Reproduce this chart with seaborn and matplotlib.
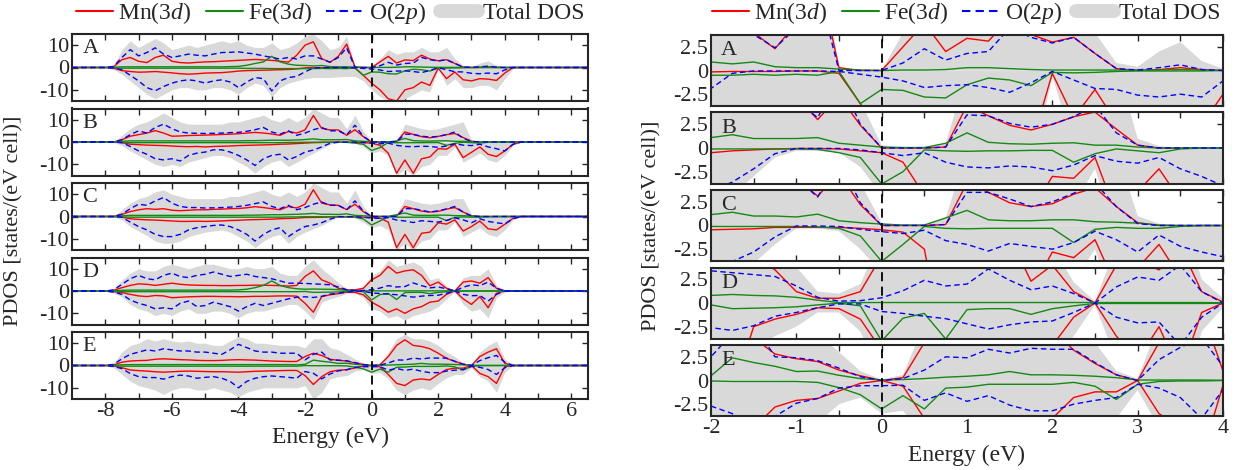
import numpy as np
import matplotlib
matplotlib.use("Agg")
import matplotlib.pyplot as plt
from matplotlib import font_manager
from matplotlib.lines import Line2D
import seaborn as sns

energy = np.arange(-8.0, 4.51, 0.25)

# ---- panel A ----
mn_up_A = [0, 0.3, 3.5, 4.5, 2.8, 2.2, 4.5, 5.5, 2.8, 2.2, 2.0, 2.3, 2.5, 2.6, 2.8, 3.0,
           3.2, 3.4, 3.6, 3.4, 3.2, 2.8, 2.4, 5.5, 10, 11.5, 4.0, 2.3, 5, 10.5, 0.3, 0,
           0, 2.5, 5, 2, 3.4, 3.1, 5.5, 3.8, 3.0, 3.5, 1.8, 0.2, 0, 0.1, 0.3, 0.1, 0, 0, 0]
mn_dn_A = [0, 0.3, 1.4, 1.8, 2.1, 2.0, 1.8, 2.1, 2.4, 2.8, 3.0, 2.8, 2.5, 2.4, 2.3, 2.0,
           1.6, 1.4, 1.3, 1.2, 1.1, 1.0, 0.9, 0.6, 0.15, 0.1, 0.1, 0.1, 0.05, 0.05, 0.3, 3.5,
           7, 10, 14, 15, 10, 9, 6.5, 8, 0.3, 5, 2.0, 5.5, 6, 5, 5.2, 5.8, 2.5, 0, 0]
fe_up_A = [0, 0.1, 0.3, 0.3, 0.3, 0.3, 0.3, 0.3, 0.3, 0.3, 0.3, 0.3, 0.3, 0.3, 0.3, 0.4,
           0.5, 1.0, 1.8, 2.5, 5.0, 2.5, 1.5, 1.0, 0.9, 0.7, 0.9, 0.4, 0.3, 0.3, 0.15, 0.05,
           0, 0.05, 0.05, 0.1, 0.3, 0.3, 0.2, 0.1, 0.05, 0.05, 0.05, 0.05, 0.05, 0.05, 0.1, 0.05, 0, 0, 0]
fe_dn_A = [0, 0.1, 0.3, 0.3, 0.3, 0.3, 0.3, 0.3, 0.3, 0.3, 0.3, 0.3, 0.3, 0.3, 0.3, 0.3,
           0.3, 0.4, 0.4, 0.4, 0.5, 0.5, 0.5, 0.5, 0.5, 0.5, 0.4, 0.5, 0.4, 0.5, 0.1, 3.5,
           2.0, 2.1, 2.8, 2.9, 1.5, 0.8, 1.0, 1.6, 0.2, 0.25, 0.2, 0.1, 0.05, 0.05, 0.05, 0.05, 0, 0, 0]
o_up_A = [0, 0.5, 4.5, 8, 5.2, 6.7, 8.8, 6, 4.5, 5.2, 6, 5.5, 5.2, 6, 6.7, 6.8,
          7, 6.5, 6, 5.2, 4.5, 3.8, 4.5, 3.8, 5.2, 5.2, 3.8, 2.4, 4.5, 8.8, 0, 0,
          0, 0.8, 2.3, 1.1, 1.8, 2.0, 4.5, 3.5, 2.9, 3.5, 1.8, 0.2, 0.05, 0.3, 0.6, 0.1, 0, 0, 0]
o_dn_A = [0, 0.3, 1.0, 3.5, 6, 9, 10.4, 8.5, 7, 6, 5.5, 6, 7, 6, 5.5, 6.5,
          9, 6.5, 4.5, 5, 10.5, 6, 4.5, 4, 1.9, 0.3, 0.05, 0.05, 0.05, 0.05, 0.1, 0.4,
          0.7, 1.1, 1.8, 1.6, 1.5, 1.8, 2.3, 1.3, 0.1, 1.0, 1.9, 2.0, 2.6, 2.8, 2.5, 2.8, 1.1, 0, 0]
tot_up_A = [0, 1, 8, 12, 9, 11, 13, 11, 8, 9, 10, 9, 10, 11, 12, 11,
            12, 10, 9, 9, 11, 8, 9, 11, 14, 15, 12, 8, 9, 14, 0.3, 0,
            0, 4, 8, 6, 7, 7, 9, 7, 7, 9, 4, 0.8, 0.4, 2, 3, 1, 0.2, 0, 0]
tot_dn_A = [0, 1, 3, 6, 9, 12, 14, 12, 10, 9, 9, 10, 10, 9, 9, 10,
            12, 9, 7, 8, 13, 9, 7, 6, 5, 4.5, 4.5, 4.5, 4.2, 4, 4, 6,
            10, 13, 15, 15, 14, 12, 10, 11, 0.6, 8, 5, 9, 9, 8, 8, 10, 5, 0.5, 0]

# ---- panel B ----
mn_up_B = [0, 0, 1.0, 2.6, 3.3, 4.0, 5.1, 4.0, 2.6, 2.7, 2.9, 3.0, 3.1, 3.2, 3.4, 3.5,
           3.7, 4.0, 4.3, 4.0, 3.6, 3.0, 4.7, 4.0, 5.4, 11.9, 6.1, 5.4, 5.4, 3.0, 5.5, 2.4,
           0, 0, 0, 0.1, 4.5, 3.4, 2.4, 1.9, 2.5, 3.3, 3.8, 2.0, 0.3, 0, 0, 0, 0, 0, 0]
mn_dn_B = [0, 0, 0.3, 1.0, 1.2, 1.4, 1.5, 1.6, 1.8, 2.0, 2.1, 2.0, 2.2, 2.0, 1.9, 1.8,
           1.6, 1.5, 1.4, 1.3, 1.2, 1.0, 0.9, 0.7, 0.5, 0.3, 0.2, 0.1, 0.05, 0.05, 0.1, 0.3,
           0.5, 1.5, 5, 14, 8, 14, 7.5, 6.7, 3.0, 3.2, 1.0, 7, 4.6, 2.2, 5.5, 6.5, 4, 1, 0]
fe_up_B = [0, 0, 0.3, 0.5, 0.5, 0.5, 0.5, 0.5, 0.5, 0.5, 0.5, 0.5, 0.5, 0.5, 0.5, 0.5,
           0.5, 0.6, 0.6, 0.7, 0.8, 0.8, 0.8, 0.9, 1.1, 1.4, 1.0, 1.0, 1.0, 1.1, 0.5, 0.3,
           0.1, 0.05, 0.05, 0.5, 1.6, 0.6, 0.45, 0.4, 0.5, 0.55, 0.3, 0.3, 0.1, 0, 0, 0, 0, 0, 0]
fe_dn_B = [0, 0, 0.2, 0.3, 0.3, 0.3, 0.3, 0.3, 0.3, 0.3, 0.3, 0.3, 0.3, 0.3, 0.3, 0.3,
           0.3, 0.3, 0.3, 0.3, 0.3, 0.3, 0.2, 0.2, 0.1, 0.1, 0.1, 0.1, 0.1, 0.15, 0.5, 1.0,
           3.8, 2.5, 0.2, 0.3, 0.35, 0.3, 0.3, 0.25, 0.25, 1.5, 0.6, 0.1, 0.3, 0.5, 0.1, 0, 0, 0, 0]
o_up_B = [0, 0, 1.0, 3.3, 5.0, 4.0, 6.5, 8.0, 6.0, 4.5, 4.0, 3.9, 3.8, 3.9, 4.0, 4.2,
          4.3, 4.8, 5.5, 6.5, 4.5, 3.5, 5.0, 3.0, 4.0, 5.5, 6.5, 5.0, 5.0, 3.2, 7.5, 2.5,
          0, 0, 0, 0.1, 3.5, 3.4, 2.6, 2.2, 2.5, 3.3, 4.5, 1.6, 0.3, 0, 0, 0, 0, 0, 0]
o_dn_B = [0, 0, 0.3, 2.0, 4.0, 5.5, 7.5, 8.0, 7.5, 8.5, 6.0, 5.0, 4.5, 3.5, 3.5, 4.5,
          6.0, 8.0, 10.5, 7.5, 6.0, 5.5, 8.0, 6.5, 4.5, 3.6, 2.2, 0.6, 0.05, 0.05, 0.05, 0.2,
          0.5, 0.8, 0.5, 1.5, 2.0, 2.1, 1.9, 2.0, 2.4, 1.8, 0.8, 1.4, 1.6, 1.0, 2.2, 3.0, 4.0, 1.0, 0]
tot_up_B = [0, 0.3, 3, 6, 8, 9, 11, 13, 11, 9, 8, 8, 8, 8, 8, 9,
            9, 10, 11, 12, 10, 9, 11, 9, 11, 15, 13, 11, 11, 6, 12, 5,
            0.3, 0, 0, 0.5, 8, 7, 6, 5.5, 6, 7, 8, 9, 1.0, 0.2, 0, 0, 0, 0, 0]
tot_dn_B = [0, 0.3, 1.5, 4, 6, 8, 10, 11, 10, 11, 9, 8, 7, 6, 6, 7,
            9, 11, 14, 11, 9, 8, 11, 9, 7, 5, 3, 1, 0.3, 0.3, 0.5, 2,
            5, 4, 6, 15, 12, 15, 11, 10, 6, 6, 2.2, 9, 7, 5, 8, 9, 6, 1.5, 0]

# ---- panel C ----
mn_up_C = [0, 0, 1.0, 2.2, 3.0, 3.5, 3.2, 3.5, 2.8, 2.6, 2.8, 3.0, 3.0, 3.2, 3.3, 3.5,
           3.6, 3.9, 4.4, 4.0, 3.5, 3.0, 4.5, 3.8, 5.5, 12, 6, 5.2, 5.0, 3.1, 5.5, 2.2,
           0, 0, 0, 0.1, 4.5, 3.5, 2.4, 2.0, 2.3, 3.3, 4.0, 2.0, 0.3, 0, 0, 0, 0, 0, 0]
mn_dn_C = [0, 0, 0.3, 1.0, 1.3, 1.5, 1.6, 1.8, 2.0, 2.2, 2.2, 2.1, 2.2, 2.1, 2.0, 1.8,
           1.7, 1.5, 1.4, 1.3, 1.2, 1.0, 0.9, 0.7, 0.45, 0.4, 0.35, 0.2, 0.2, 0.2, 0.2, 0.3,
           0.45, 0.7, 2.5, 14, 8, 14, 7.5, 7.0, 2.8, 3.4, 1.5, 6.5, 4.5, 2.0, 5.5, 6.0, 3.5, 0.8, 0]
fe_up_C = [0, 0, 0.3, 0.5, 0.5, 0.5, 0.5, 0.5, 0.5, 0.5, 0.5, 0.5, 0.5, 0.5, 0.5, 0.5,
           0.5, 0.6, 0.6, 0.7, 0.8, 0.8, 0.9, 1.0, 1.15, 1.4, 1.0, 1.0, 0.9, 1.2, 0.5, 0.3,
           0.15, 0.05, 0.05, 0.8, 1.6, 0.6, 0.5, 0.5, 0.6, 0.6, 0.4, 0.35, 0.25, 0.05, 0, 0, 0, 0, 0]
fe_dn_C = [0, 0, 0.2, 0.3, 0.3, 0.3, 0.3, 0.3, 0.3, 0.3, 0.3, 0.3, 0.3, 0.3, 0.3, 0.3,
           0.3, 0.3, 0.3, 0.3, 0.3, 0.3, 0.2, 0.2, 0.1, 0.1, 0.1, 0.1, 0.1, 0.15, 0.3, 1.1,
           3.8, 2.0, 0.1, 0.3, 0.35, 0.3, 0.3, 0.3, 0.3, 1.8, 0.4, 0.2, 0.3, 0.3, 0.1, 0, 0, 0, 0]
o_up_C = [0, 0, 1.0, 3.5, 5.5, 5.0, 7.0, 8.5, 6.0, 4.5, 4.0, 4.0, 3.8, 3.9, 4.0, 4.2,
          4.5, 5.0, 5.8, 6.5, 4.5, 3.5, 5.0, 3.0, 4.0, 5.5, 6.5, 5.0, 5.0, 3.0, 7.0, 2.4,
          0, 0, 0, 0.1, 3.5, 3.5, 2.8, 2.0, 2.5, 3.4, 4.5, 2.0, 0.2, 0, 0, 0, 0, 0, 0]
o_dn_C = [0, 0, 0.3, 2.5, 4.5, 6.0, 8.0, 9.0, 9.0, 8.0, 6.0, 5.0, 4.5, 4.0, 3.8, 4.5,
          6.0, 8.0, 11.0, 8.0, 6.0, 5.0, 9.0, 6.5, 4.5, 3.8, 2.8, 1.2, 0.05, 0.05, 0.1, 0.4,
          0.65, 0.85, 0.5, 1.6, 2.0, 2.7, 1.9, 2.2, 2.5, 1.8, 0.6, 1.5, 2.8, 1.0, 2.2, 2.8, 3.3, 1.0, 0]
tot_up_C = [0, 0.3, 3, 6, 8, 9, 11, 12, 10, 9, 8, 8, 8, 8, 8, 9,
            9, 10, 11, 12, 10, 9, 11, 9, 11, 15, 13, 11, 11, 6, 12, 4.5,
            0.3, 0, 0, 0.8, 8, 7, 6, 5.5, 6, 7, 8, 8, 1.0, 0.2, 0, 0, 0, 0, 0]
tot_dn_C = [0, 0.3, 1.5, 4.5, 6.5, 8.5, 11, 12, 12, 11, 9, 8, 7, 6.5, 6, 7,
            9, 11, 14, 11, 9, 8, 12, 9, 7, 5.5, 4, 2, 0.3, 0.3, 0.6, 2.5,
            5, 4, 6, 15, 12, 15, 11, 10, 6, 6, 2.5, 9, 7, 5, 8, 9, 6, 1.5, 0]

# ---- panel D ----
mn_up_D = [0, 0.3, 1.5, 2.5, 3.2, 3.0, 2.5, 3.0, 3.5, 3.0, 2.7, 2.6, 2.5, 2.5, 2.4, 2.4,
           2.5, 2.5, 2.6, 2.6, 2.5, 2.4, 2.2, 2.5, 6.5, 9.0, 5.0, 3.5, 1.2, 0.5, 0.5, 1.2,
           5.0, 7.0, 11.0, 8.0, 9.0, 9.5, 7.0, 2.3, 4.0, 1.2, 0, 4.0, 4.5, 3.5, 6.0, 1.2, 0.1, 0, 0]
mn_dn_D = [0, 0.3, 0.7, 1.5, 2.2, 2.5, 2.0, 2.2, 3.0, 2.8, 2.6, 2.5, 2.4, 2.4, 2.5, 2.5,
           2.6, 2.5, 2.4, 2.4, 2.3, 2.2, 2.2, 2.3, 5.5, 9.5, 2.5, 1.7, 1.2, 0.5, 0.6, 1.7,
           5.0, 7.0, 9.5, 8.0, 10.0, 8.0, 7.0, 5.0, 4.5, 1.5, 0, 3.5, 6.0, 2.5, 7.5, 1.0, 0, 0, 0]
fe_up_D = [0, 0.1, 0.3, 0.4, 0.4, 0.4, 0.4, 0.4, 0.4, 0.4, 0.4, 0.4, 0.4, 0.4, 0.4, 0.4,
           0.5, 0.8, 1.5, 2.5, 4.5, 2.5, 1.5, 1.0, 0.8, 0.9, 0.8, 0.75, 0.6, 0.3, 0.05, 0.05,
           0.05, 0.05, 0.05, 0.05, 0.05, 0.05, 0.05, 0.05, 0.05, 0.05, 0.05, 0.05, 0.05, 0.05, 0.05, 0.05, 0.02, 0, 0]
fe_dn_D = [0, 0.1, 0.3, 0.3, 0.3, 0.3, 0.3, 0.3, 0.3, 0.3, 0.3, 0.3, 0.3, 0.3, 0.3, 0.3,
           0.3, 0.3, 0.3, 0.3, 0.3, 0.3, 0.3, 0.3, 0.2, 0.6, 0.55, 0.5, 0.4, 0.2, 0.02, 0.3,
           4.0, 1.6, 1.1, 3.8, 0.7, 0.6, 0.6, 1.2, 0.6, 0.3, 0.05, 0.05, 0.05, 0.05, 0.05, 0.05, 0.02, 0, 0]
o_up_D = [0, 0.5, 3.0, 5.5, 7.0, 5.5, 5.0, 7.0, 8.0, 6.5, 6.0, 7.0, 7.5, 8.5, 7.5, 6.5,
          7.0, 7.5, 6.5, 6.0, 5.5, 4.5, 3.5, 3.5, 3.4, 3.2, 3.0, 2.8, 1.8, 0.6, 0.2, 0.25,
          0.55, 1.3, 2.4, 1.8, 2.0, 3.6, 2.4, 1.4, 1.8, 1.0, 0, 1.7, 2.75, 2.4, 4.0, 1.2, 0, 0, 0]
o_dn_D = [0, 0.5, 1.5, 4.0, 5.5, 6.5, 8.0, 7.5, 8.0, 5.5, 4.5, 7.0, 6.5, 5.0, 6.0, 7.0,
          9.0, 7.0, 5.5, 6.5, 5.5, 4.5, 3.5, 2.8, 2.6, 2.9, 2.4, 1.4, 1.0, 0.5, 0.1, 0.1,
          0.9, 1.1, 1.4, 1.65, 2.2, 2.75, 2.3, 2.0, 1.9, 1.0, 0, 1.5, 2.1, 2.0, 4.5, 1.5, 0, 0, 0]
tot_up_D = [0, 1, 5, 8, 10, 9, 9, 11, 12, 11, 10, 11, 12, 12, 11, 10,
            10, 11, 10, 10, 11, 8, 7, 7, 11, 14, 10, 7, 3.8, 1.2, 1.0, 2.0,
            7, 9, 14, 11, 12, 13, 11, 5, 6, 2.2, 0.2, 6, 7, 7, 10, 2.5, 0.5, 0, 0]
tot_dn_D = [0, 1, 2.5, 6, 8, 9, 11, 10, 11, 9, 8, 10, 10, 9, 9, 10,
            12, 10, 9, 9, 8, 7, 6, 6, 9, 13, 5, 3.5, 2.5, 1.0, 1.0, 3.0,
            8, 9, 12, 11, 13, 11, 10, 9, 7, 3.5, 0.2, 6, 9, 8, 12, 3, 0.5, 0, 0]

# ---- panel E ----
mn_up_E = [0, 0.2, 1.5, 2.0, 2.2, 2.3, 2.8, 3.0, 2.8, 2.6, 2.5, 2.3, 2.2, 2.2, 2.3, 2.5,
           2.6, 2.5, 2.4, 2.2, 2.0, 1.9, 1.8, 1.8, 4.0, 5.5, 4.5, 2.8, 2.3, 2.0, 1.1, 0.5,
           0, 0.3, 4.0, 9.0, 11.5, 9.0, 8.5, 7.5, 5.5, 3.2, 1.8, 0.6, 0, 4.0, 6.0, 7.5, 1.0, 0, 0]
mn_dn_E = [0, 0.2, 1.0, 2.0, 2.3, 2.5, 2.8, 3.0, 2.8, 2.6, 2.5, 2.6, 2.7, 2.8, 2.8, 2.9,
           3.0, 2.8, 2.6, 2.5, 2.4, 2.3, 2.2, 2.2, 4.5, 8.5, 5.0, 2.8, 2.1, 1.9, 1.1, 0.3,
           0, 0.6, 4.0, 8.0, 9.0, 6.5, 6.0, 6.5, 4.0, 1.8, 1.2, 1.2, 0, 3.5, 5.0, 8.0, 0.5, 0, 0]
fe_up_E = [0, 0.1, 0.3, 0.4, 0.4, 0.4, 0.4, 0.4, 0.4, 0.4, 0.4, 0.4, 0.4, 0.4, 0.4, 0.4,
           0.4, 0.4, 0.4, 0.4, 0.4, 0.4, 0.4, 0.3, 0.5, 2.4, 1.9, 1.5, 0.95, 1.0, 0.55, 0.2,
           0.05, 0.1, 0.2, 0.35, 0.45, 0.6, 0.95, 0.6, 0.6, 0.55, 0.45, 0.3, 0.05, 0.05, 0.05, 0.05, 0.02, 0, 0]
fe_dn_E = [0, 0.1, 0.3, 0.3, 0.3, 0.3, 0.3, 0.3, 0.3, 0.3, 0.3, 0.3, 0.3, 0.3, 0.3, 0.3,
           0.3, 0.3, 0.3, 0.3, 0.3, 0.3, 0.3, 0.3, 0.05, 0.1, 0.1, 0.1, 0.1, 0.2, 0.75, 1.5,
           3.0, 1.6, 3.0, 0.8, 0.7, 0.4, 0.4, 0.4, 0.4, 0.2, 0.6, 2.0, 0.4, 0.1, 0.05, 0.05, 0, 0, 0]
o_up_E = [0, 0.5, 3.0, 5.0, 6.0, 7.0, 6.5, 7.5, 7.0, 6.5, 6.5, 6.0, 6.0, 5.5, 5.0, 7.0,
          9.5, 8.0, 6.5, 6.0, 6.0, 5.5, 5.5, 5.5, 2.5, 5.0, 6.0, 2.5, 2.4, 2.1, 1.3, 0.4,
          0, 0.2, 1.1, 2.5, 2.4, 3.3, 2.9, 3.4, 3.3, 3.3, 1.9, 0.6, 0, 2.2, 3.5, 4.5, 1.5, 0, 0]
o_dn_E = [0, 0.4, 1.4, 3.6, 5.0, 5.4, 5.4, 6.1, 5.0, 4.3, 4.7, 5.7, 5.3, 5.0, 5.7, 7.1,
          10.0, 7.1, 5.7, 5.0, 4.7, 5.0, 5.3, 5.7, 2.7, 3.5, 6.0, 3.8, 2.4, 1.9, 0.8, 0.55,
          0.55, 0.5, 2.1, 1.3, 2.2, 1.6, 2.6, 3.2, 3.2, 2.5, 2.1, 1.8, 0.4, 0.8, 1.8, 4.0, 1.0, 0, 0]
tot_up_E = [0, 1, 6, 9, 10, 12, 11, 12, 11, 10.5, 11, 10, 10, 9, 9, 11,
            13, 12, 10, 10, 9.5, 9, 9, 9, 8, 12, 12, 8, 7, 5, 3, 1,
            0.1, 0.6, 6, 12, 14, 12, 12, 11, 9, 6, 4, 1.0, 0.2, 6, 9, 11, 3, 0, 0]
tot_dn_E = [0, 1, 4, 7, 9, 10, 11, 13, 11, 10, 10, 11, 11, 10, 11, 12,
            14, 12, 11, 10, 10, 10, 10, 10, 9, 15, 12, 6, 5, 4.5, 2.5, 1.8,
            3.5, 3.2, 6, 11, 13, 11, 10, 11, 8, 5.5, 4, 4, 1.0, 5, 7, 12, 3, 0, 0]

panel_names = ["A", "B", "C", "D", "E"]
panels = [
    (mn_up_A, mn_dn_A, fe_up_A, fe_dn_A, o_up_A, o_dn_A, tot_up_A, tot_dn_A),
    (mn_up_B, mn_dn_B, fe_up_B, fe_dn_B, o_up_B, o_dn_B, tot_up_B, tot_dn_B),
    (mn_up_C, mn_dn_C, fe_up_C, fe_dn_C, o_up_C, o_dn_C, tot_up_C, tot_dn_C),
    (mn_up_D, mn_dn_D, fe_up_D, fe_dn_D, o_up_D, o_dn_D, tot_up_D, tot_dn_D),
    (mn_up_E, mn_dn_E, fe_up_E, fe_dn_E, o_up_E, o_dn_E, tot_up_E, tot_dn_E),
]
for p in panels:
    for s in p:
        assert len(s) == len(energy), len(s)

# Times-like font
names = {f.name for f in font_manager.fontManager.ttflist}
SERIF = next((n for n in ['Liberation Serif', 'Times New Roman', 'Nimbus Roman',
                          'DejaVu Serif'] if n in names), 'serif')

sns.set_style("ticks")
plt.rcParams['font.family'] = 'serif'
plt.rcParams['font.serif'] = [SERIF, 'DejaVu Serif']
plt.rcParams['mathtext.fontset'] = 'custom'
plt.rcParams['mathtext.rm'] = SERIF
plt.rcParams['mathtext.it'] = SERIF + ':italic'
plt.rcParams['axes.unicode_minus'] = False
plt.rcParams['xtick.direction'] = 'in'
plt.rcParams['ytick.direction'] = 'in'

RED = '#ff0000'
GREEN = '#138a13'
BLUE = '#0000ff'
GREY = '#d9d9d9'
DASH = (0, (4, 2.5))

# pad with zeros out to the edges of the wide energy window
e = np.concatenate([[-9.0], energy, [6.5]])


def pad(v):
    return np.concatenate([[0.0], np.asarray(v, float), [0.0]])


def draw(ax, name, data, lw):
    mu, md, fu, fd, ou, od, tu, td = data
    ax.fill_between(e, 0, pad(tu), color=GREY, lw=0, zorder=1)
    ax.fill_between(e, 0, -pad(td), color=GREY, lw=0, zorder=1)
    for up, dn, col, ls in [(mu, md, RED, '-'), (fu, fd, GREEN, '-'), (ou, od, BLUE, DASH)]:
        sns.lineplot(x=e, y=pad(up), ax=ax, color=col, lw=lw, linestyle=ls,
                     sort=False, estimator=None, zorder=3)
        sns.lineplot(x=e, y=-pad(dn), ax=ax, color=col, lw=lw, linestyle=ls,
                     sort=False, estimator=None, zorder=3)
    ax.axvline(0, color='k', lw=1.3, ls=(0, (5, 3)), zorder=5)
    ax.text(0.02, 0.78, name, transform=ax.transAxes, fontsize=16, va='center', zorder=6)
    ax.tick_params(top=True, right=True, length=4, width=1, labelsize=16, pad=2)
    for sp in ax.spines.values():
        sp.set_linewidth(1.5)
        sp.set_zorder(7)
    ax.set_ylabel('')


fig = plt.figure(figsize=(12.37, 4.70), dpi=100)
W, H = 1237.0, 470.0

# left column: full energy window
lx0, lx1, ltop, lh, lgap = 72, 588, 34, 67, 7.5
# right column: zoom around the gap
rx0, rx1, rtop, rh, rgap = 711, 1223, 35, 71, 6.5

for i, (name, data) in enumerate(zip(panel_names, panels)):
    yt = ltop + i * (lh + lgap)
    ax = fig.add_axes([lx0 / W, 1 - (yt + lh) / H, (lx1 - lx0) / W, lh / H])
    draw(ax, name, data, 1.0)
    ax.set_xlim(-9, 6.5)
    ax.set_ylim(-15, 15)
    ax.set_yticks([-10, 0, 10])
    ax.set_xticks(np.arange(-8, 7, 1))
    if i == 4:
        ax.set_xticklabels([str(t) if t % 2 == 0 else '' for t in range(-8, 7)])
        ax.set_xlabel('Energy (eV)', fontsize=17, labelpad=4)
    else:
        ax.set_xticklabels([])
        ax.set_xlabel('')

    yt = rtop + i * (rh + rgap)
    ax = fig.add_axes([rx0 / W, 1 - (yt + rh) / H, (rx1 - rx0) / W, rh / H])
    draw(ax, name, data, 1.0)
    ax.set_xlim(-2, 4)
    ax.set_ylim(-3.75, 3.75)
    ax.set_yticks([-2.5, 0, 2.5])
    ax.set_yticklabels(['-2.5', '0', '2.5'])
    ax.set_xticks(np.arange(-2, 4.01, 0.5))
    if i == 4:
        ax.set_xticklabels([str(int(t)) if t == int(t) else '' for t in np.arange(-2, 4.01, 0.5)])
        ax.set_xlabel('Energy (eV)', fontsize=17, labelpad=5)
    else:
        ax.set_xticklabels([])
        ax.set_xlabel('')

fig.text(14 / W, 0.53, 'PDOS [states/(eV cell)]', rotation=90, fontsize=16,
         ha='center', va='center')
fig.text(652 / W, 0.52, 'PDOS [states/(eV cell)]', rotation=90, fontsize=16,
         ha='center', va='center')

handles = [Line2D([], [], color=RED, lw=1.5),
           Line2D([], [], color=GREEN, lw=1.5),
           Line2D([], [], color=BLUE, lw=1.5, ls=DASH),
           Line2D([], [], color=GREY, lw=10)]
labels = ['Mn(3$d$)', 'Fe(3$d$)', 'O(2$p$)', 'Total DOS']
for cx in (330 / W, 966 / W):
    fig.legend(handles, labels, loc='center', bbox_to_anchor=(cx, 1 - 13 / H), ncol=4,
               frameon=False, fontsize=17, handlelength=1.6, handletextpad=0.2,
               columnspacing=0.6, borderaxespad=0, borderpad=0)

fig.savefig('out.png', dpi=100)
